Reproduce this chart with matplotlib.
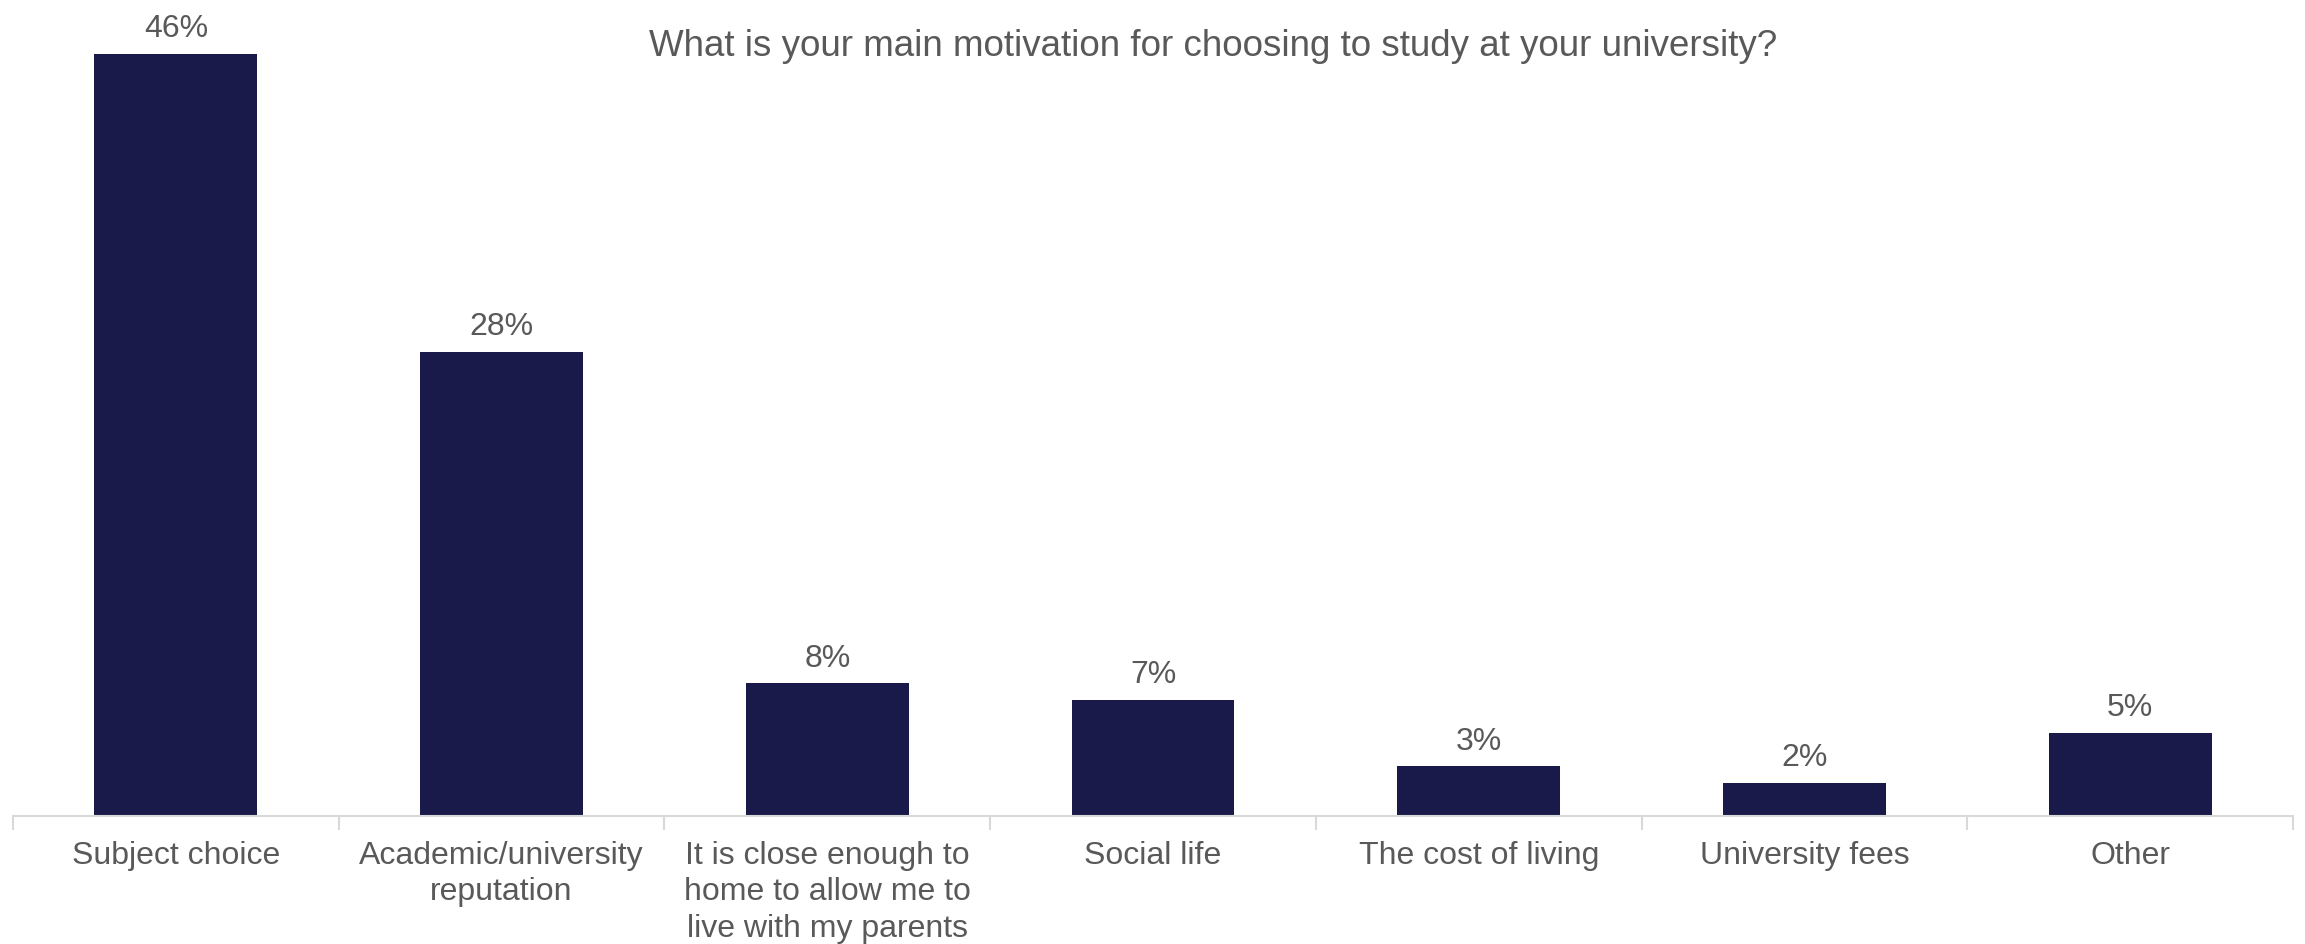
import matplotlib.pyplot as plt
import numpy as np

plt.rcParams['font.family'] = ['Liberation Sans', 'DejaVu Sans']

# data
categories = ['Subject choice', 'Academic/university\nreputation',
              'It is close enough to\nhome to allow me to\nlive with my parents',
              'Social life', 'The cost of living', 'University fees', 'Other']
values = [46, 28, 8, 7, 3, 2, 5]
labels = ['46%', '28%', '8%', '7%', '3%', '2%', '5%']
title = 'What is your main motivation for choosing to study at your university?'

bar_color = '#1a1a4a'
text_color = '#595959'
axis_color = '#d9d9d9'

fig = plt.figure(figsize=(23.05, 9.44), dpi=100)
ax = fig.add_axes([13 / 2305, 128 / 944, 2280 / 2305, 816 / 944])

x = np.arange(len(categories))
bars = ax.bar(x, values, width=0.5, color=bar_color)

for rect, lab in zip(bars, labels):
    ax.annotate(lab, (rect.get_x() + rect.get_width() / 2, rect.get_height()),
                xytext=(0, 7), textcoords='offset points',
                ha='center', va='bottom', fontsize=23, color=text_color)

ax.set_xlim(-0.5, len(categories) - 0.5)
ax.set_ylim(0, 49.25)

for side in ['top', 'right', 'left']:
    ax.spines[side].set_visible(False)
ax.spines['bottom'].set_color(axis_color)
ax.spines['bottom'].set_linewidth(1.5)
ax.set_yticks([])

ax.set_xticks(x)
ax.set_xticklabels(categories, fontsize=23, color=text_color, linespacing=1.28)
ax.tick_params(axis='x', which='major', length=0, pad=18)
ax.set_xticks(np.arange(-0.5, len(categories)), minor=True)
ax.tick_params(axis='x', which='minor', length=10, width=1.5, color=axis_color)

fig.text(1213 / 2305, 1 - 46 / 944, title, ha='center', va='center',
         fontsize=26.5, color=text_color)

fig.savefig('out.png', dpi=100)
